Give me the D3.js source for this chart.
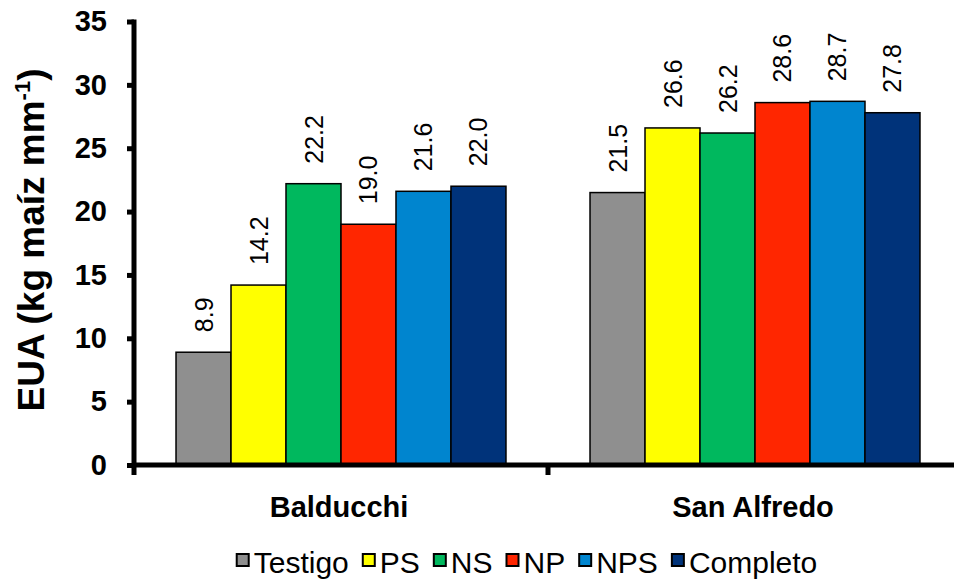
<!DOCTYPE html>
<html>
<head>
<meta charset="utf-8">
<script src="https://cdn.jsdelivr.net/npm/d3@7"></script>
<style>
  html, body { margin: 0; padding: 0; background: #fff; }
  svg { display: block; font-family: "Liberation Sans", Arial, sans-serif; }
</style>
</head>
<body>
<svg id="chart" width="954" height="581"></svg>
<script>
// Water use efficiency by site and fertilization treatment
const sites = ["Balducchi", "San Alfredo"];
const treatments = ["Testigo", "PS", "NS", "NP", "NPS", "Completo"];
const colors = ["#8f8f8f", "#ffff00", "#00b85e", "#ff2600", "#0085cf", "#00337a"];
const balducchi = [8.9, 14.2, 22.2, 19.0, 21.6, 22.0];
const sanAlfredo = [21.5, 26.6, 26.2, 28.6, 28.7, 27.8];
const yTicks = [0, 5, 10, 15, 20, 25, 30, 35];

const seriesBySite = [balducchi, sanAlfredo];

const svg = d3.select("#chart");
const plotLeft = 134, plotRight = 962, plotTop = 21.5, plotBottom = 465;

const x0 = d3.scaleBand().domain(sites).range([plotLeft, plotRight]).paddingInner(0).paddingOuter(0);
const x1 = d3.scaleBand().domain(treatments).range([0, x0.bandwidth()]).paddingOuter(0.764).paddingInner(0);
const y = d3.scaleLinear().domain([0, 35]).range([plotBottom, plotTop]);

// bars
const groups = svg.append("g").selectAll("g")
  .data(sites)
  .join("g")
  .attr("transform", d => `translate(${x0(d)},0)`);

groups.each(function(site, si) {
  const g = d3.select(this);
  const vals = seriesBySite[si];
  g.selectAll("rect")
    .data(vals)
    .join("rect")
    .attr("x", (v, i) => x1(treatments[i]))
    .attr("y", v => y(v))
    .attr("width", x1.bandwidth())
    .attr("height", v => y(0) - y(v))
    .attr("fill", (v, i) => colors[i])
    .attr("stroke", "#000")
    .attr("stroke-width", 1.5);

  g.selectAll("text.val")
    .data(vals)
    .join("text")
    .attr("class", "val")
    .attr("transform", (v, i) => `translate(${x1(treatments[i]) + x1.bandwidth() / 2},${y(v) - 20}) rotate(-90)`)
    .attr("dy", "0.36em")
    .attr("text-anchor", "start")
    .attr("font-size", 25)
    .attr("fill", "#000")
    .text(v => v.toFixed(1));
});

// y axis
const yAxis = d3.axisLeft(y).tickValues(yTicks).tickSize(7).tickPadding(20).tickFormat(d3.format("d"));
const ya = svg.append("g").attr("transform", `translate(${plotLeft},0)`).call(yAxis);
ya.select(".domain").remove();
ya.append("line").attr("x1", 0).attr("x2", 0).attr("y1", plotTop - 2).attr("y2", plotBottom + 2)
  .attr("stroke", "#000").attr("stroke-width", 5);
ya.selectAll(".tick line").attr("stroke", "#000").attr("stroke-width", 5);
ya.selectAll(".tick text").attr("font-size", 29).attr("font-weight", "bold").attr("fill", "#000");

// x axis
const xa = svg.append("g").attr("transform", `translate(0,${plotBottom})`);
xa.append("line").attr("x1", plotLeft - 2).attr("x2", plotRight).attr("y1", 0).attr("y2", 0)
  .attr("stroke", "#000").attr("stroke-width", 5);
const sepTicks = [plotLeft, x0(sites[1]), plotRight];
xa.selectAll("line.sep").data(sepTicks).join("line").attr("class", "sep")
  .attr("x1", d => d).attr("x2", d => d).attr("y1", 0).attr("y2", 10)
  .attr("stroke", "#000").attr("stroke-width", 5);
xa.selectAll("text").data(sites).join("text")
  .attr("x", d => x0(d) + x0.bandwidth() / 2 - 2)
  .attr("y", 52)
  .attr("text-anchor", "middle")
  .attr("font-size", 29)
  .attr("font-weight", "bold")
  .text(d => d);

// y axis title
const title = svg.append("text")
  .attr("transform", `translate(44,240) rotate(-90)`)
  .attr("text-anchor", "middle")
  .attr("font-size", 37)
  .attr("font-weight", "bold");
title.append("tspan").text("EUA (kg maíz mm");
title.append("tspan").attr("font-size", 22).attr("dy", -14).text("-1");
title.append("tspan").attr("dy", 14).text(")");

// legend
const legend = svg.append("g");
const items = legend.selectAll("g").data(treatments).join("g");
items.append("rect").attr("width", 12).attr("height", 12).attr("y", -19)
  .attr("fill", (d, i) => colors[i]).attr("stroke", "#000").attr("stroke-width", 2);
items.append("text").attr("x", 17).attr("y", 0).attr("font-size", 30).text(d => d);
let cx = 0;
items.each(function() {
  const g = d3.select(this);
  g.attr("transform", `translate(${cx},0)`);
  cx += 17 + g.select("text").node().getComputedTextLength() + 14;
});
const legendWidth = cx - 14;
legend.attr("transform", `translate(${527 - legendWidth / 2},573)`);
</script>
</body>
</html>
